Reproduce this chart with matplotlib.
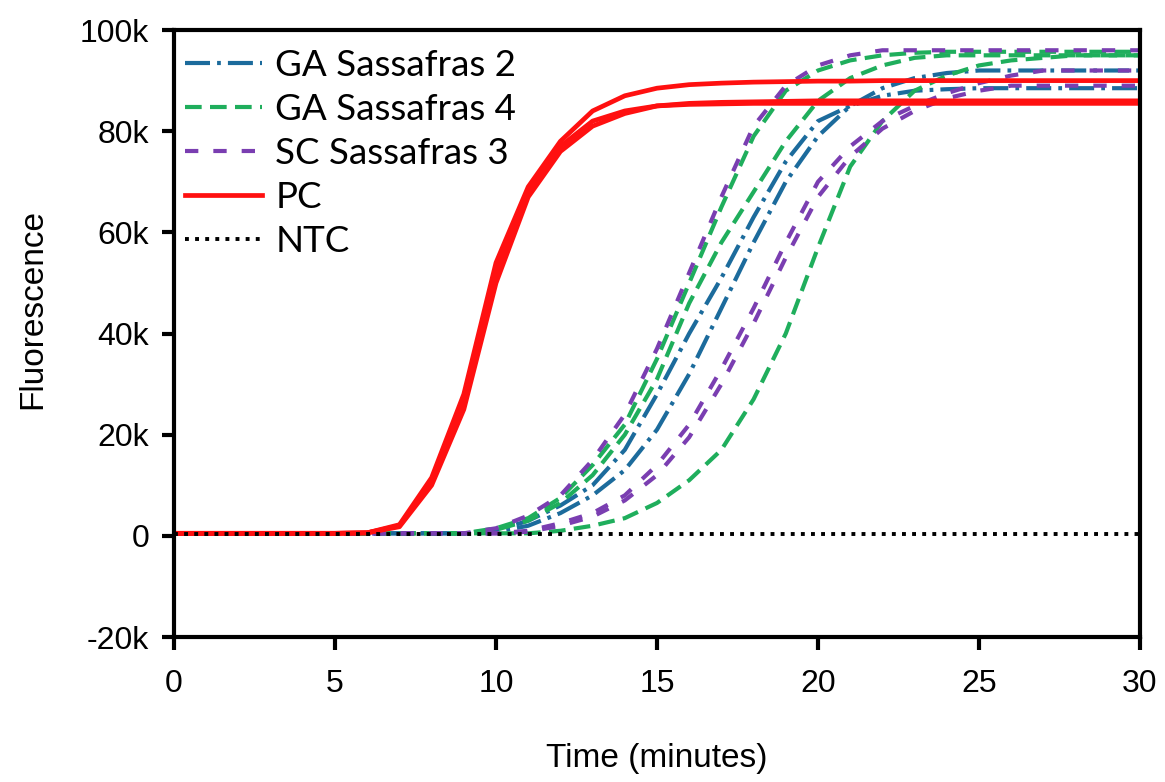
import matplotlib
matplotlib.use("Agg")
import matplotlib.pyplot as plt
from matplotlib.ticker import FuncFormatter
from matplotlib.lines import Line2D

# time in minutes, fluorescence in thousands
time = list(range(31))

ga2_a = [0.5] * 10 + [1, 3, 6, 10, 17, 28, 40, 51, 63, 74, 82, 85, 87, 88, 88.3,
                      88.5, 88.5, 88.5, 88.5, 88.5, 88.5]
ga2_b = [0.5] * 10 + [0.8, 2, 4.5, 8, 13, 21, 32, 45, 58, 70, 79, 85, 88.5, 90.5, 91.5,
                      92, 92, 92, 92, 92, 92]

ga4_a = [0.5] * 10 + [1.5, 3.5, 7.5, 14, 22, 35, 50, 65, 79, 88, 92, 94, 95, 95.5,
                      95.7, 95.7, 95.7, 95.7, 95.7, 95.7, 95.7]
ga4_b = [0.5] * 10 + [1.2, 3, 6.5, 12, 20, 31, 46, 58, 68, 78, 86, 90.5, 93, 94.5,
                      95, 95, 95, 95, 95, 95, 95]
ga4_c = [0.5] * 12 + [1.0, 2, 3.5, 6.5, 11, 17, 27, 40, 57, 73, 82, 88, 91, 93, 94,
                      94.5, 95, 95, 95]

sc3_a = [0.5] * 10 + [1.5, 4, 8, 15, 24, 37, 52, 67, 81, 89, 93, 95, 96,
                      96, 96, 96, 96, 96, 96, 96, 96]
sc3_b = [0.5] * 11 + [1, 2.5, 4.5, 8, 14, 22, 33, 45, 58, 70, 77, 82, 85, 87.5, 89.5, 91,
                      92, 92, 92, 92]
sc3_c = [0.5] * 11 + [0.8, 2, 3.8, 7, 12, 19.5, 30, 42, 55, 67, 75, 80.5, 84, 86.5, 88,
                      89, 89, 89, 89, 89]

pc_a = [0.5] * 6 + [0.6, 2.2, 11.5, 28, 54, 69, 78, 84, 87, 88.5, 89.2, 89.5, 89.7, 89.8,
                    89.9, 89.9, 90, 90, 90, 90, 90, 90, 90, 90, 90]
pc_b = [0.5] * 6 + [0.6, 1.8, 10, 25, 50, 67, 76, 81, 83.5, 85, 85.5, 85.7, 85.8, 85.9,
                    86, 86, 86, 86, 86, 86, 86, 86, 86, 86, 86]
pc_c = [0.5] * 6 + [0.6, 2.0, 10.5, 26, 52, 68, 77, 82, 84, 85, 85.3, 85.4, 85.5, 85.5,
                    85.5, 85.5, 85.5, 85.5, 85.5, 85.5, 85.5, 85.5, 85.5, 85.5, 85.5]

ntc = [0.4] * 31

labels = ["GA Sassafras 2", "GA Sassafras 4", "SC Sassafras 3", "PC", "NTC"]

blue = "#1c6b9c"
green = "#1fae5c"
purple = "#7a3eb1"
red = "#ff1010"

plt.rcParams["font.family"] = ["Liberation Sans", "DejaVu Sans"]

fig = plt.figure(figsize=(11.65, 7.82), dpi=100)
ax = fig.add_axes([0.1494, 0.1854, 0.8291, 0.7762])

blue_style = dict(color=blue, lw=3.0, dashes=(6, 1.7, 0.9, 1.7))
green_style = dict(color=green, lw=3.0, dashes=(4, 2))
purple_style = dict(color=purple, lw=3.0, dashes=(3.2, 3.6))
red_style = dict(color=red, lw=3.4, ls="-")
ntc_style = dict(color="black", lw=2.8, ls=(0, (1, 1.6)))

for y in (ga2_a, ga2_b):
    ax.plot(time, y, **blue_style)
for y in (ga4_a, ga4_b, ga4_c):
    ax.plot(time, y, **green_style)
for y in (sc3_a, sc3_b, sc3_c):
    ax.plot(time, y, **purple_style)
for y in (pc_a, pc_b, pc_c):
    ax.plot(time, y, **red_style)
ax.plot(time, ntc, **ntc_style)

handles = [
    Line2D([], [], **blue_style),
    Line2D([], [], **green_style),
    Line2D([], [], **purple_style),
    Line2D([], [], **red_style),
    Line2D([], [], **ntc_style),
]
ax.legend(handles, labels, loc="upper left", frameon=False,
          prop={"family": "Lato", "size": 26.5}, handlelength=2.1,
          handletextpad=0.35, labelspacing=0.3, borderpad=0.3,
          borderaxespad=0.0, bbox_to_anchor=(0.0, 0.987))

ax.set_xlim(0, 30)
ax.set_ylim(-20, 100)
ax.set_xticks(range(0, 31, 5))
ax.set_yticks(range(-20, 101, 20))
ax.yaxis.set_major_formatter(FuncFormatter(lambda v, p: "0" if v == 0 else f"{int(v)}k"))

for s in ax.spines.values():
    s.set_linewidth(3.0)
ax.tick_params(direction="out", length=9, width=3.0, labelsize=23, pad=9)
ax.tick_params(axis="x", pad=14)

ax.set_xlabel("Time (minutes)", fontsize=24, labelpad=32)
ax.set_ylabel("Fluorescence", fontsize=24, labelpad=12)
ax.yaxis.set_label_coords(-0.13, 0.54)

fig.savefig("out.png", dpi=100)
